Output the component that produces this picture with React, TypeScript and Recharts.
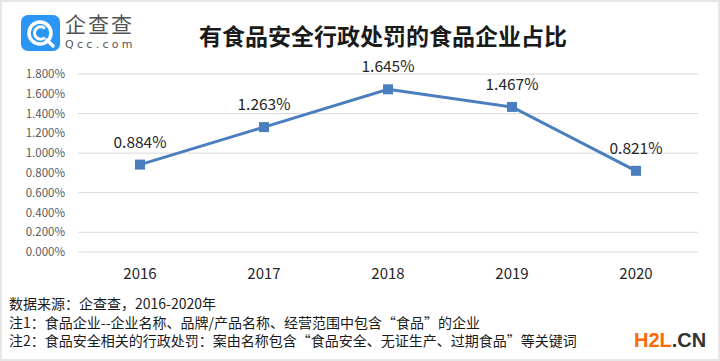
import React from "react";
import { LineChart, Line, XAxis, YAxis, CartesianGrid, LabelList } from "recharts";

const years = ["2016", "2017", "2018", "2019", "2020"];
const shares = [0.884, 1.263, 1.645, 1.467, 0.821];
const yTicks = [0, 0.2, 0.4, 0.6, 0.8, 1.0, 1.2, 1.4, 1.6, 1.8];

const data = years.map((y, i) => ({ year: y, value: shares[i] }));

const FONT = '"Noto Sans CJK SC", "Noto Sans", sans-serif';
const BLUE = "#4a7ebf";

const SquareDot = (props: any) => {
  const { cx, cy } = props;
  if (cx == null || cy == null) return null;
  return <rect x={cx - 5} y={cy - 5} width={10} height={10} fill={BLUE} />;
};

const Logo = () => (
  <svg width={40} height={37} style={{ position: "absolute", left: 19, top: 13 }}>
    <rect x={0} y={0} width={39} height={36} rx={7} fill="#2b95f3" />
    <circle cx={19} cy={18} r={11} fill="none" stroke="#fff" strokeWidth={3.5} />
    <path d="M 24 13.5 A 6.2 6.2 0 1 0 24 22.5" fill="none" stroke="#fff" strokeWidth={3} />
    <line x1={26} y1={25} x2={32} y2={31} stroke="#fff" strokeWidth={3.5} strokeLinecap="round" />
  </svg>
);

export default function App() {
  return (
    <div
      style={{
        position: "relative",
        width: 720,
        height: 361,
        background: "#fff",
        boxSizing: "border-box",
        border: "2px solid #e6e6e6",
        fontFamily: FONT,
        overflow: "hidden",
      }}
    >
      <style>{`body{margin:0}`}</style>
      <div style={{ position: "absolute", left: -2, top: -2 }}>
        <LineChart
          width={720}
          height={361}
          data={data}
          margin={{ top: 74, right: 22, bottom: 79, left: 0 }}
        >
          <CartesianGrid vertical={false} stroke="#d9d9d9" strokeWidth={1} />
          <XAxis
            dataKey="year"
            height={30}
            axisLine={false}
            tickLine={false}
            tickSize={8}
            tickMargin={8}
            padding={{ left: 62, right: 62 }}
            tick={{ fill: "#262626", fontSize: 15, fontFamily: FONT }}
          />
          <YAxis
            width={78}
            domain={[0, 1.8]}
            ticks={yTicks}
            axisLine={false}
            tickLine={false}
            tickSize={6}
            tickMargin={7}
            tickFormatter={(v: number) => `${v.toFixed(3)}%`}
            tick={{ fill: "#595959", fontSize: 11.5, fontFamily: FONT }}
          />
          <Line
            type="linear"
            dataKey="value"
            stroke={BLUE}
            strokeWidth={3}
            dot={<SquareDot />}
            activeDot={false}
            isAnimationActive={false}
          >
            <LabelList
              dataKey="value"
              position="top"
              offset={17}
              formatter={(v: number) => `${v.toFixed(3)}%`}
              style={{ fill: "#262626", fontSize: 15.5, fontFamily: FONT }}
            />
          </Line>
        </LineChart>
      </div>

      <Logo />
      <div
        style={{
          position: "absolute",
          left: 63,
          top: 11,
          fontSize: 21,
          color: "#555",
          letterSpacing: 2,
          lineHeight: "21px",
        }}
      >
        企查查
      </div>
      <div
        style={{
          position: "absolute",
          left: 63,
          top: 37,
          fontSize: 11,
          color: "#555",
          letterSpacing: 3.3,
          fontFamily: '"DejaVu Sans", sans-serif',
          lineHeight: "11px",
        }}
      >
        Qcc.com
      </div>

      <div
        style={{
          position: "absolute",
          left: 0,
          width: 762,
          top: 18,
          textAlign: "center",
          fontSize: 23,
          fontWeight: 700,
          color: "#1a1a1a",
          lineHeight: "30px",
        }}
      >
        有食品安全行政处罚的食品企业占比
      </div>

      <div
        style={{
          position: "absolute",
          left: 7,
          top: 292,
          fontSize: 14,
          color: "#1a1a1a",
          lineHeight: "18.5px",
        }}
      >
        <div>数据来源：企查查，2016-2020年</div>
        <div>注1：食品企业--企业名称、品牌/产品名称、经营范围中包含“食品”的企业</div>
        <div>注2：食品安全相关的行政处罚：案由名称包含“食品安全、无证生产、过期食品”等关键词</div>
      </div>

      <div
        style={{
          position: "absolute",
          left: 632,
          top: 326,
          fontSize: 20,
          fontWeight: 700,
          fontFamily: '"Liberation Sans", Arial, sans-serif',
          lineHeight: "24px",
        }}
      >
        <span style={{ color: "#ff6a00" }}>H2L</span>
        <span style={{ color: "#333" }}>.CN</span>
      </div>
    </div>
  );
}
